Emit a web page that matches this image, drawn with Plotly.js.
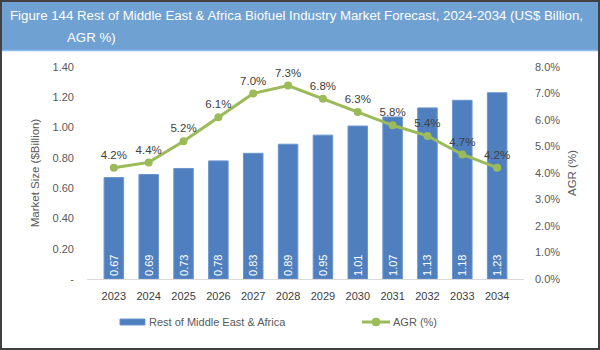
<!DOCTYPE html>
<html><head><meta charset="utf-8">
<script src="https://cdn.plot.ly/plotly-3.0.1.min.js"></script>
<style>html,body{margin:0;padding:0;background:#fff}#c{width:600px;height:350px}</style>
</head><body><div id="c"></div>
<script>
const years = ['2023','2024','2025','2026','2027','2028','2029','2030','2031','2032','2033','2034'];
const marketSize = [0.67,0.69,0.73,0.78,0.83,0.89,0.95,1.01,1.07,1.13,1.18,1.23];
const agr = [4.2,4.4,5.2,6.1,7.0,7.3,6.8,6.3,5.8,5.4,4.7,4.2];
const leftTickVals = [0,0.2,0.4,0.6,0.8,1.0,1.2,1.4];
const leftTickText = ['-','0.20','0.40','0.60','0.80','1.00','1.20','1.40'];
const rightTickVals = [0,1,2,3,4,5,6,7,8];
const rightTickText = ['0.0%','1.0%','2.0%','3.0%','4.0%','5.0%','6.0%','7.0%','8.0%'];
const barName = 'Rest of Middle East & Africa';
const lineName = 'AGR (%)';
const titleLine1 = 'Figure 144 Rest of Middle East & Africa Biofuel Industry Market Forecast, 2024-2034 (US$ Billion,';
const titleLine2 = 'AGR %)';

const L=87,R=524,T=67,B=279;
const px=x=>(x-L)/(R-L), py=y=>(B-y)/(B-T);
const font='"Liberation Sans", Arial, sans-serif';
const barColor='#4F7FBE', lineColor='#9BBB59';

const traces=[
 {type:'bar',x:years,y:marketSize,name:barName,marker:{color:barColor,line:{color:'#6A95CC',width:1}},width:0.56,
  text:marketSize.map(v=>v.toFixed(2)),textposition:'inside',insidetextanchor:'start',textangle:-90,
  textfont:{color:'#ffffff',size:11,family:font},hoverinfo:'skip',cliponaxis:false,showlegend:false},
 {type:'scatter',mode:'lines+markers+text',x:years,y:agr,yaxis:'y2',name:lineName,
  line:{color:lineColor,width:3},marker:{color:lineColor,size:8},
  text:agr.map(v=>v.toFixed(1)+'%'),textposition:'top center',textfont:{color:'#404040',size:11.5,family:font},cliponaxis:false,showlegend:false}
];
const layout={
 width:600,height:350,margin:{l:L,r:600-R,t:T,b:350-B},
 paper_bgcolor:'#ffffff',plot_bgcolor:'#ffffff',showlegend:false,
 font:{family:font,color:'#595959',size:11},
 xaxis:{type:'category',showline:true,linecolor:'#D9D9D9',linewidth:1,ticks:'',showgrid:false,tickfont:{size:11,color:'#404040'},ticklabelstandoff:7},
 yaxis:{range:[0,1.4],tickvals:leftTickVals,ticktext:leftTickText,showgrid:false,zeroline:false,showline:false,ticks:'',
   tickfont:{size:11,color:'#595959'},ticklabelstandoff:12,title:{text:'Market Size ($Billion)',font:{size:11.5,color:'#595959'},standoff:10}},
 yaxis2:{range:[0,8],overlaying:'y',side:'right',tickvals:rightTickVals,ticktext:rightTickText,showgrid:false,zeroline:false,showline:false,ticks:'',
   tickfont:{size:11,color:'#595959'},ticklabelstandoff:10,title:{text:'AGR (%)',font:{size:11.5,color:'#595959'},standoff:8}},
 shapes:[
  {type:'rect',xref:'paper',yref:'paper',x0:px(0),x1:px(600),y0:py(50),y1:py(0),fillcolor:'#6FA1D2',line:{width:0},layer:'below'},
  {type:'line',xref:'paper',yref:'paper',x0:px(0),x1:px(600),y0:py(50.5),y1:py(50.5),line:{color:'#8FBCEB',width:1.5}},
  {type:'rect',xref:'paper',yref:'paper',x0:px(1),x1:px(599),y0:py(349),y1:py(1),line:{color:'#404040',width:2},fillcolor:'rgba(0,0,0,0)'},
  {type:'rect',xref:'paper',yref:'paper',x0:px(120),x1:px(145),y0:py(325),y1:py(319),fillcolor:barColor,line:{color:'#6A95CC',width:1}},
  {type:'line',xref:'paper',yref:'paper',x0:px(362),x1:px(390),y0:py(322),y1:py(322),line:{color:lineColor,width:3}},
  {type:'circle',xref:'paper',yref:'paper',x0:px(372),x1:px(380),y0:py(326),y1:py(318),fillcolor:lineColor,line:{color:lineColor,width:1}}
 ],
 annotations:[
  {xref:'paper',yref:'paper',x:px(8),y:py(15),xanchor:'left',yanchor:'middle',showarrow:false,text:titleLine1,font:{family:font,size:13.25,color:'#ffffff'}},
  {xref:'paper',yref:'paper',x:px(65),y:py(38),xanchor:'left',yanchor:'middle',showarrow:false,text:titleLine2,font:{family:font,size:13.25,color:'#ffffff'}},
  {xref:'paper',yref:'paper',x:px(147),y:py(322),xanchor:'left',yanchor:'middle',showarrow:false,text:barName,font:{family:font,size:11,color:'#595959'}},
  {xref:'paper',yref:'paper',x:px(391),y:py(322),xanchor:'left',yanchor:'middle',showarrow:false,text:lineName,font:{family:font,size:11,color:'#595959'}}
 ]
};
Plotly.newPlot('c',traces,layout,{displayModeBar:false,staticPlot:true});
</script></body></html>
